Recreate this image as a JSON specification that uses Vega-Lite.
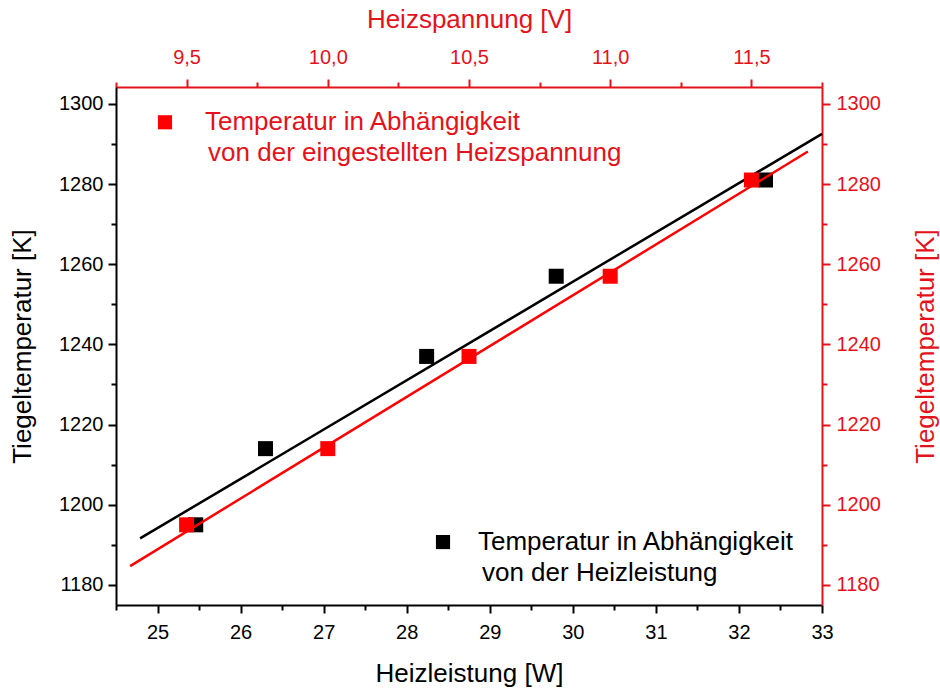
{
  "$schema": "https://vega.github.io/schema/vega-lite/v6.json",
  "autosize": {"type": "none"},
  "padding": {"left": 116, "top": 87, "right": 118, "bottom": 85},
  "width": 706,
  "height": 518,
  "background": "white",
  "config": {"view": {"stroke": null}, "font": "Liberation Sans"},
  "datasets": {
    "leistung": [
      {"P": 25.46, "T": 1195},
      {"P": 26.30, "T": 1214},
      {"P": 28.24, "T": 1237},
      {"P": 29.80, "T": 1257},
      {"P": 32.32, "T": 1281}
    ],
    "fitP": [
      {"P": 24.79, "T": 1191.6},
      {"P": 33.0, "T": 1292.5}
    ],
    "legP": [
      {"P": 28.437, "T": 1190.7}
    ],
    "legPText": [
      {"P": 28.858, "T": 1190.7, "label": "Temperatur in Abhängigkeit"},
      {"P": 28.906, "T": 1183.0, "label": "von der Heizleistung"}
    ],
    "spannung": [
      {"U": 9.5, "T": 1195},
      {"U": 10.0, "T": 1214},
      {"U": 10.5, "T": 1237},
      {"U": 11.0, "T": 1257},
      {"U": 11.5, "T": 1281}
    ],
    "fitU": [
      {"U": 9.30, "T": 1184.7},
      {"U": 11.70, "T": 1288.1}
    ],
    "legU": [
      {"U": 9.4235, "T": 1295.4}
    ],
    "legUText": [
      {"U": 9.565, "T": 1295.4, "label": "Temperatur in Abhängigkeit"},
      {"U": 9.576, "T": 1287.7, "label": "von der eingestellten Heizspannung"}
    ]
  },
  "layer": [
    {
      "encoding": {
        "x": {
          "field": "P", "type": "quantitative",
          "scale": {"domain": [24.5, 33], "nice": false, "zero": false},
          "axis": {
            "orient": "bottom",
            "title": "Heizleistung [W]",
            "values": [24.5, 25, 25.5, 26, 26.5, 27, 27.5, 28, 28.5, 29, 29.5, 30, 30.5, 31, 31.5, 32, 32.5, 33],
            "labelExpr": "datum.value % 1 === 0 ? format(datum.value, 'd') : ''",
            "tickSize": {"condition": {"test": "datum.value % 1 !== 0", "value": 5}, "value": 8},
            "grid": false,
            "domainColor": "black", "domainWidth": 2,
            "tickColor": "black", "tickWidth": 2,
            "labelColor": "black", "labelFontSize": 20, "labelPadding": 9,
            "labelOverlap": false, "labelFlush": false, "labelBound": false,
            "titleColor": "black", "titleFontSize": 26, "titleFontWeight": "normal", "titlePadding": 18
          }
        },
        "y": {
          "field": "T", "type": "quantitative",
          "scale": {"domain": [1175, 1304.2], "nice": false, "zero": false},
          "axis": {
            "orient": "left",
            "title": "Tiegeltemperatur [K]",
            "values": [1180, 1190, 1200, 1210, 1220, 1230, 1240, 1250, 1260, 1270, 1280, 1290, 1300],
            "labelExpr": "datum.value % 20 === 0 ? format(datum.value, 'd') : ''",
            "tickSize": {"condition": {"test": "datum.value % 20 !== 0", "value": 5}, "value": 8},
            "grid": false,
            "domainColor": "black", "domainWidth": 2,
            "tickColor": "black", "tickWidth": 2,
            "labelColor": "black", "labelFontSize": 20, "labelPadding": 5,
            "labelOverlap": false, "labelFlush": false, "labelBound": false,
            "titleColor": "black", "titleFontSize": 26, "titleFontWeight": "normal", "titlePadding": 23
          }
        }
      },
      "layer": [
        {
          "data": {"name": "fitP"},
          "mark": {"type": "line", "color": "black", "strokeWidth": 2.5}
        },
        {
          "data": {"name": "leistung"},
          "mark": {"type": "point", "shape": "square", "filled": true, "size": 225, "color": "black", "opacity": 1}
        },
        {
          "data": {"name": "legP"},
          "mark": {"type": "point", "shape": "square", "filled": true, "size": 200, "color": "black", "opacity": 1}
        },
        {
          "data": {"name": "legPText"},
          "mark": {"type": "text", "align": "left", "baseline": "middle", "fontSize": 26, "color": "black"},
          "encoding": {"text": {"field": "label"}}
        }
      ]
    },
    {
      "encoding": {
        "x": {
          "field": "U", "type": "quantitative",
          "scale": {"domain": [9.25, 11.75], "nice": false, "zero": false},
          "axis": {
            "orient": "top",
            "title": "Heizspannung [V]",
            "values": [9.25, 9.5, 9.75, 10, 10.25, 10.5, 10.75, 11, 11.25, 11.5, 11.75],
            "labelExpr": "(datum.value * 2) % 1 === 0 ? replace(format(datum.value, '.1f'), '.', ',') : ''",
            "tickSize": {"condition": {"test": "(datum.value * 2) % 1 !== 0", "value": 5}, "value": 8},
            "grid": false,
            "domainColor": "#e3121b", "domainWidth": 2,
            "tickColor": "#e3121b", "tickWidth": 2,
            "labelColor": "#e3121b", "labelFontSize": 20, "labelPadding": 12,
            "labelOverlap": false, "labelFlush": false, "labelBound": false,
            "titleColor": "#e3121b", "titleFontSize": 26, "titleFontWeight": "normal", "titlePadding": 15
          }
        },
        "y": {
          "field": "T", "type": "quantitative",
          "scale": {"domain": [1175, 1304.2], "nice": false, "zero": false},
          "axis": {
            "orient": "right",
            "title": "Tiegeltemperatur [K]",
            "titleAngle": 270,
            "values": [1180, 1190, 1200, 1210, 1220, 1230, 1240, 1250, 1260, 1270, 1280, 1290, 1300],
            "labelExpr": "datum.value % 20 === 0 ? format(datum.value, 'd') : ''",
            "tickSize": {"condition": {"test": "datum.value % 20 !== 0", "value": 5}, "value": 8},
            "grid": false,
            "domainColor": "#e3121b", "domainWidth": 2,
            "tickColor": "#e3121b", "tickWidth": 2,
            "labelColor": "#e3121b", "labelFontSize": 20, "labelPadding": 6,
            "labelOverlap": false, "labelFlush": false, "labelBound": false,
            "titleColor": "#e3121b", "titleFontSize": 26, "titleFontWeight": "normal", "titlePadding": 58
          }
        }
      },
      "layer": [
        {
          "data": {"name": "fitU"},
          "mark": {"type": "line", "color": "#ff0000", "strokeWidth": 2.5}
        },
        {
          "data": {"name": "spannung"},
          "mark": {"type": "point", "shape": "square", "filled": true, "size": 225, "color": "#ff0000", "opacity": 1}
        },
        {
          "data": {"name": "legU"},
          "mark": {"type": "point", "shape": "square", "filled": true, "size": 200, "color": "#ff0000", "opacity": 1}
        },
        {
          "data": {"name": "legUText"},
          "mark": {"type": "text", "align": "left", "baseline": "middle", "fontSize": 26, "color": "#e3121b"},
          "encoding": {"text": {"field": "label"}}
        }
      ]
    }
  ],
  "resolve": {"scale": {"x": "independent"}, "axis": {"x": "independent", "y": "independent"}}
}
